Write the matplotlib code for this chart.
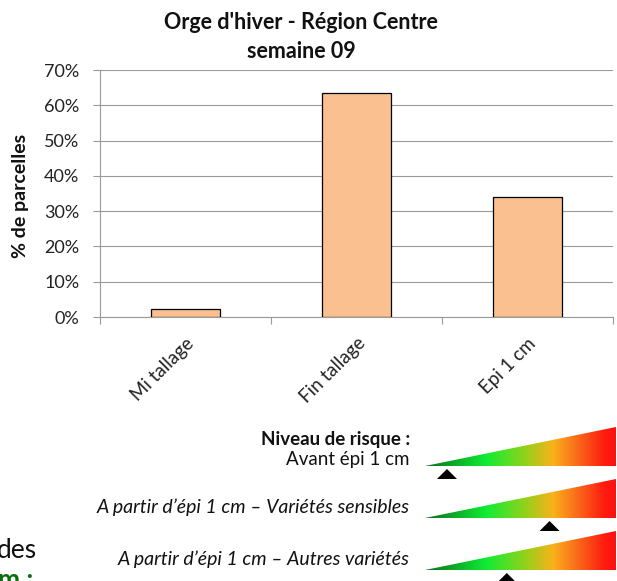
import numpy as np
import matplotlib
matplotlib.use("Agg")
import matplotlib.pyplot as plt
from matplotlib.colors import LinearSegmentedColormap
from matplotlib.patches import Polygon

plt.rcParams['font.family'] = ['Lato', 'DejaVu Sans']

# data
stades = ["Mi tallage", "Fin tallage", "Epi 1 cm"]
parcelles = [2.2, 63.6, 34.0]
yticks = [0, 10, 20, 30, 40, 50, 60, 70]

risque_labels = ["Avant épi 1 cm",
                 "A partir d\u2019épi 1 cm \u2013 Variétés sensibles",
                 "A partir d\u2019épi 1 cm \u2013 Autres variétés"]
risque_niveau = [0.07, 0.67, 0.42]   # position of the marker along the scale (0-1)

W, H = 617, 581
fig = plt.figure(figsize=(W / 100, H / 100), dpi=100)

# ---- bar chart ----
ax = fig.add_axes([100 / W, 1 - 317 / H, 513 / W, 247 / H])
x = np.arange(len(stades))
ax.bar(x, parcelles, width=0.4, color='#fac090', edgecolor='black', linewidth=0.9, zorder=3)
ax.set_xlim(-0.5, len(stades) - 0.5)
ax.set_ylim(0, 70)
ax.set_yticks(yticks)
ax.set_yticklabels([f"{v}%" for v in yticks], fontsize=13, color='#222222')
ax.yaxis.grid(True, color='#9a9a9a', linewidth=0.8, zorder=0)
ax.tick_params(axis='y', length=5, color='#9a9a9a', pad=10)
ax.set_xticks(np.arange(len(stades) + 1) - 0.5)
ax.set_xticklabels([])
ax.tick_params(axis='x', length=5, color='#9a9a9a', direction='out')
for s in ['top', 'right']:
    ax.spines[s].set_visible(False)
for s in ['left', 'bottom']:
    ax.spines[s].set_color('#9a9a9a')
for xi, lab in zip(x, stades):
    ax.text(xi + 0.0, -5, lab, rotation=45, ha='right', va='top',
            rotation_mode='anchor', fontsize=13.5, color='#222222')

fig.text(21 / W, 1 - 196 / H, "% de parcelles", rotation=90, ha='center', va='center',
         fontsize=14, fontweight='bold', color='#111111')
fig.text(301 / W, 1 - 29 / H, "Orge d'hiver - Région Centre", ha='center', va='baseline',
         fontsize=15.5, fontweight='bold', color='#111111')
fig.text(301 / W, 1 - 58 / H, "semaine 09", ha='center', va='baseline',
         fontsize=15.5, fontweight='bold', color='#111111')

# ---- risk scale overlay (pixel coordinates) ----
ov = fig.add_axes([0, 0, 1, 1])
ov.set_xlim(0, W)
ov.set_ylim(H, 0)
ov.axis('off')

cmap = LinearSegmentedColormap.from_list('risque', [
    (0.0, '#0b6e1c'), (0.32, '#10ec34'), (0.52, '#8fd21c'),
    (0.67, '#f9b21a'), (0.80, '#fa6a1a'), (0.94, '#ff1c10'), (1.0, '#ff1010')])
grad = np.linspace(0, 1, 256).reshape(1, -1)

x0, x1 = 425, 616
bottoms = [466, 518, 570]
height = 39
for i, (yb, lab, niv) in enumerate(zip(bottoms, risque_labels, risque_niveau)):
    im = ov.imshow(grad, cmap=cmap, aspect='auto',
                   extent=(x0, x1, yb, yb - height), zorder=2)
    tri = Polygon([(x0, yb), (x1, yb), (x1, yb - height)], closed=True,
                  transform=ov.transData, facecolor='none', edgecolor='none')
    ov.add_patch(tri)
    im.set_clip_path(tri)
    mx = x0 + 10 + niv * (x1 - x0 - 20)
    ov.add_patch(Polygon([(mx - 10, yb + 13), (mx + 10, yb + 13), (mx, yb + 3)],
                         closed=True, facecolor='black', edgecolor='none', zorder=3))
    if i == 0:
        ov.text(410, yb - 1, lab, ha='right', va='baseline', fontsize=13.5, color='#111111')
    else:
        ov.text(410, yb - 5, lab, ha='right', va='baseline', fontsize=14,
                style='italic', color='#111111')

ov.text(410, 445, "Niveau de risque :", ha='right', va='baseline', fontsize=13.5,
        fontweight='bold', color='#111111')

# fragments of the surrounding page text
ov.text(-3, 558, "des", ha='left', va='baseline', fontsize=19, color='#111111')
ov.text(-2, 588, "m :", ha='left', va='baseline', fontsize=19, fontweight='bold',
        color='#0a6e0a')

fig.savefig("out.png", dpi=100)
